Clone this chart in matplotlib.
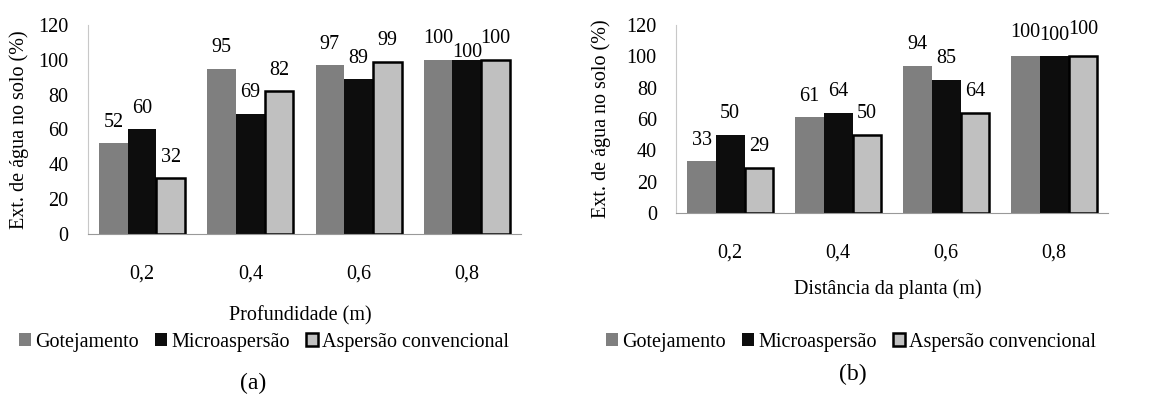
import numpy as np
import matplotlib.pyplot as plt

plt.rcParams['font.family'] = ['Liberation Serif', 'DejaVu Serif']

categorias = ['0,2', '0,4', '0,6', '0,8']
series = ['Gotejamento', 'Microaspersão', 'Aspersão convencional']

# (a) profundidade
prof_got = [52, 95, 97, 100]
prof_mic = [60, 69, 89, 100]
prof_asp = [32, 82, 99, 100]

# (b) distancia da planta
dist_got = [33, 61, 94, 100]
dist_mic = [50, 64, 85, 100]
dist_asp = [29, 50, 64, 100]

cores = ['#7f7f7f', '#0d0d0d', '#c0c0c0']
bordas = ['none', 'none', '#000000']
larg_borda = [0, 0, 1.8]

fig = plt.figure(figsize=(11.5, 3.96), dpi=100)
ax_a = fig.add_axes([0.0765, 0.409, 0.3765, 0.528])
ax_b = fig.add_axes([0.588, 0.462, 0.3757, 0.475])


def desenha(ax, dados, xlabel, offsets):
    x = np.arange(len(categorias))
    w = 0.265
    for i, vals in enumerate(dados):
        pos = x + (i - 1) * w
        ax.bar(pos, vals, w, color=cores[i], edgecolor=bordas[i],
               linewidth=larg_borda[i], label=series[i], zorder=2)
        for j, v in enumerate(vals):
            off = offsets.get((i, j), 15)
            ax.annotate(str(v), (pos[j], v), xytext=(0, off),
                        textcoords='offset points', ha='center', va='center',
                        fontsize=14.5)
    ax.set_xlim(-0.5, len(categorias) - 0.5)
    ax.set_ylim(0, 120)
    ax.set_yticks(range(0, 121, 20))
    ax.set_xticks(x)
    ax.set_xticklabels(categorias)
    ax.tick_params(length=0, labelsize=14.5)
    ax.tick_params(axis='x', pad=22)
    ax.tick_params(axis='y', pad=14)
    for s in ['top', 'right']:
        ax.spines[s].set_visible(False)
    ax.spines['left'].set_color('#c8c8c8')
    ax.spines['bottom'].set_color('#999999')
    ax.set_ylabel('Ext. de água no solo (%)', fontsize=14.5)
    ax.set_xlabel(xlabel, fontsize=14.5)


desenha(ax_a, [prof_got, prof_mic, prof_asp], 'Profundidade (m)',
        {(1, 3): 5})
ax_a.xaxis.set_label_coords(0.49, -0.345)
ax_a.yaxis.set_label_coords(-0.136, 0.5)
desenha(ax_b, [dist_got, dist_mic, dist_asp], 'Distância da planta (m)',
        {(0, 3): 17, (1, 3): 15, (2, 3): 19})
ax_b.xaxis.set_label_coords(0.49, -0.35)
ax_b.yaxis.set_label_coords(-0.15, 0.5)

for ax, xc, yl in [(ax_a, 264 / 1150, 1 - 342 / 396), (ax_b, 851 / 1150, 1 - 342 / 396)]:
    h, l = ax.get_legend_handles_labels()
    fig.legend(h, l, loc='center', bbox_to_anchor=(xc, yl), ncol=3,
               frameon=False, fontsize=14.5, handlelength=0.6, handleheight=0.6,
               handletextpad=0.2, columnspacing=0.8, borderpad=0)

fig.text(253 / 1150, 1 - 383 / 396, '(a)', ha='center', va='center', fontsize=17)
fig.text(853 / 1150, 1 - 374 / 396, '(b)', ha='center', va='center', fontsize=17)

fig.savefig('out.png', dpi=100)
